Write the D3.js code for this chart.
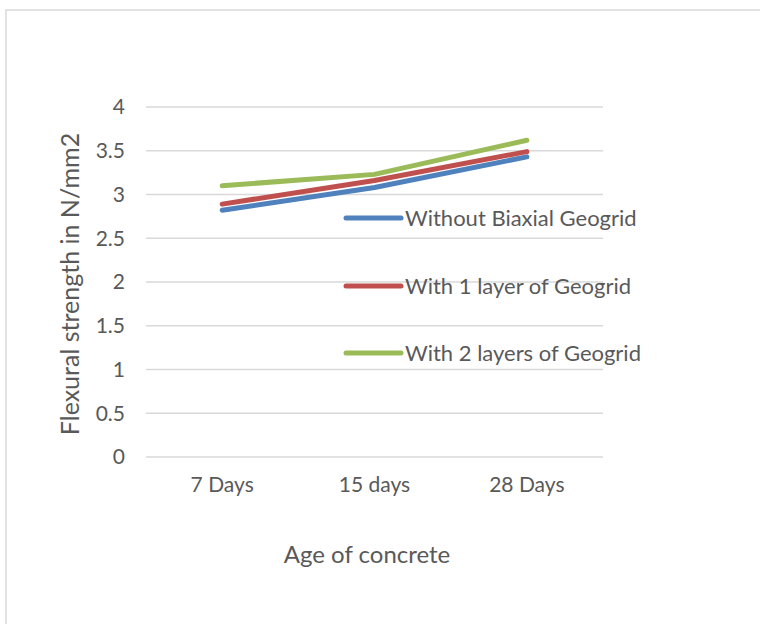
<!DOCTYPE html>
<html>
<head>
<meta charset="utf-8">
<script src="https://cdn.jsdelivr.net/npm/d3@7"></script>
<style>
  html, body { margin: 0; padding: 0; background: #fff; }
  svg { display: block; font-family: Lato, "Liberation Sans", sans-serif; }
</style>
</head>
<body>
<svg id="chart" width="760" height="624"></svg>
<script>
// chart values
const categories = ['7 Days', '15 days', '28 Days'];
const seriesNames = ['Without Biaxial Geogrid', 'With 1 layer of Geogrid', 'With 2 layers of Geogrid'];
const withoutGeogrid = [2.82, 3.08, 3.43];
const oneLayer = [2.89, 3.16, 3.49];
const twoLayers = [3.10, 3.23, 3.62];
const yTicks = [0, 0.5, 1, 1.5, 2, 2.5, 3, 3.5, 4];
const seriesColors = ['#4f81bd', '#c0504d', '#9bbb59'];

const series = [withoutGeogrid, oneLayer, twoLayers].map((vals, i) => ({
  name: seriesNames[i], color: seriesColors[i], values: vals
}));

const svg = d3.select('#chart');
const plot = { left: 146, right: 603, top: 107, bottom: 457 };

// outer chart border (runs off the right/bottom of the picture)
svg.append('rect')
  .attr('x', 6).attr('y', 10)
  .attr('width', 800).attr('height', 700)
  .attr('fill', 'none')
  .attr('stroke', '#d9d9d9')
  .attr('stroke-width', 1.5);

const x = d3.scaleBand().domain(categories).range([plot.left, plot.right]);
const y = d3.scaleLinear().domain([0, 4]).range([plot.bottom, plot.top]);
const cx = d => x(d) + x.bandwidth() / 2;

// gridlines
svg.append('g').selectAll('line')
  .data(yTicks).join('line')
  .attr('x1', plot.left).attr('x2', plot.right)
  .attr('y1', d => y(d)).attr('y2', d => y(d))
  .attr('stroke', '#d9d9d9').attr('stroke-width', 1.5);

// y tick labels
svg.append('g').selectAll('text')
  .data(yTicks).join('text')
  .attr('x', 125).attr('y', d => y(d))
  .attr('dy', '0.35em')
  .attr('text-anchor', 'end')
  .attr('font-size', 21)
  .attr('fill', '#595959')
  .text(d => d);

// x tick labels
svg.append('g').selectAll('text')
  .data(categories).join('text')
  .attr('x', d => cx(d)).attr('y', 492)
  .attr('text-anchor', 'middle')
  .attr('font-size', 21)
  .attr('fill', '#595959')
  .text(d => d);

// axis titles
svg.append('text')
  .attr('transform', 'translate(70,284) rotate(-90)')
  .attr('dy', '0.35em')
  .attr('text-anchor', 'middle')
  .attr('font-size', 25)
  .attr('fill', '#595959')
  .text('Flexural strength in N/mm2');

svg.append('text')
  .attr('x', 367).attr('y', 563)
  .attr('text-anchor', 'middle')
  .attr('font-size', 24)
  .attr('fill', '#595959')
  .text('Age of concrete');

// lines
const line = d3.line()
  .x((d, i) => cx(categories[i]))
  .y(d => y(d));

svg.append('g').selectAll('path')
  .data(series).join('path')
  .attr('d', d => line(d.values))
  .attr('fill', 'none')
  .attr('stroke', d => d.color)
  .attr('stroke-width', 5)
  .attr('stroke-linecap', 'round')
  .attr('stroke-linejoin', 'round');

// legend
const legendY = [218, 286, 353];
const legend = svg.append('g').selectAll('g')
  .data(series).join('g')
  .attr('transform', (d, i) => `translate(346,${legendY[i]})`);
legend.append('line')
  .attr('x1', 0).attr('x2', 55)
  .attr('stroke', d => d.color)
  .attr('stroke-width', 5)
  .attr('stroke-linecap', 'round');
legend.append('text')
  .attr('x', 59).attr('dy', '0.35em')
  .attr('font-size', 22)
  .attr('fill', '#595959')
  .text(d => d.name);
</script>
</body>
</html>
